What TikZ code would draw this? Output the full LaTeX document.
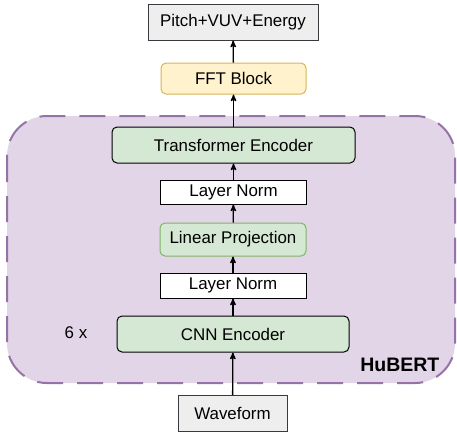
\documentclass[tikz,border=0pt]{standalone}
\usepackage{fontspec}
\setmainfont{Liberation Sans}
\usepackage{tikz}
\usetikzlibrary{arrows}
\definecolor{box_gray}{RGB}{238,238,238}
\definecolor{line_gray}{RGB}{54,57,61}
\definecolor{block_green}{RGB}{213,232,212}
\definecolor{line_green}{RGB}{130,179,102}
\definecolor{block_yellow}{RGB}{255,242,204}
\definecolor{line_yellow}{RGB}{214,182,86}
\definecolor{hubert_fill}{RGB}{225,213,231}
\definecolor{hubert_line}{RGB}{150,115,166}

\begin{document}
\begin{tikzpicture}[->,semithick,>=stealth',x=1pt,y=-1pt,
    font=\fontsize{16.9}{20}\selectfont]
    \tikzstyle{block}=[draw, rectangle, line width=1pt, inner sep=0pt, text=black]
    \tikzstyle{io}=[block, draw=line_gray, fill=box_gray]
    \tikzstyle{enc}=[block, draw=black, fill=block_green, rounded corners=5pt]
    \tikzstyle{norm}=[block, draw=black, fill=white]

    \useasboundingbox (0,0) rectangle (457,432);

    % HuBERT region
    \path[-, draw=hubert_line, fill=hubert_fill, line width=2pt,
          dash pattern=on 26pt off 14pt, rounded corners=40pt]
        (7,116) rectangle (455,383);
    \node[anchor=east, font=\fontsize{19.5}{22}\selectfont\bfseries] (hubert) at (443,365) {HuBERT};
    \node (times) at (76,333) {6 x};

    \node[io, minimum width=170pt, minimum height=36pt] (out) at (233,22) {Pitch+VUV+Energy};
    \node[block, draw=line_yellow, fill=block_yellow, rounded corners=5pt,
          minimum width=145pt, minimum height=31pt] (fft) at (233.5,78.5) {FFT Block};
    \node[enc, minimum width=243pt, minimum height=36pt] (te) at (233.5,145) {Transformer Encoder};
    \node[norm, minimum width=146pt, minimum height=24pt] (ln1) at (233.5,192) {Layer Norm};
    \node[block, draw=line_green, fill=block_green, rounded corners=5pt,
          minimum width=146pt, minimum height=33pt] (lp) at (233,239.5) {Linear Projection};
    \node[norm, minimum width=146pt, minimum height=25pt] (ln2) at (233,285.5) {Layer Norm};
    \node[enc, minimum width=232pt, minimum height=36pt] (cnn) at (233,334) {CNN Encoder};
    \node[io, minimum width=109pt, minimum height=36pt] (wave) at (232.5,413.5) {Waveform};

    \path[line width=1.3pt]
     (wave) edge (cnn)
     (cnn) edge (ln2)
     (ln2) edge (lp)
     (lp) edge (ln1)
     (ln1) edge (te)
     (te) edge (fft)
     (fft) edge (out)
     ;
\end{tikzpicture}
\end{document}
